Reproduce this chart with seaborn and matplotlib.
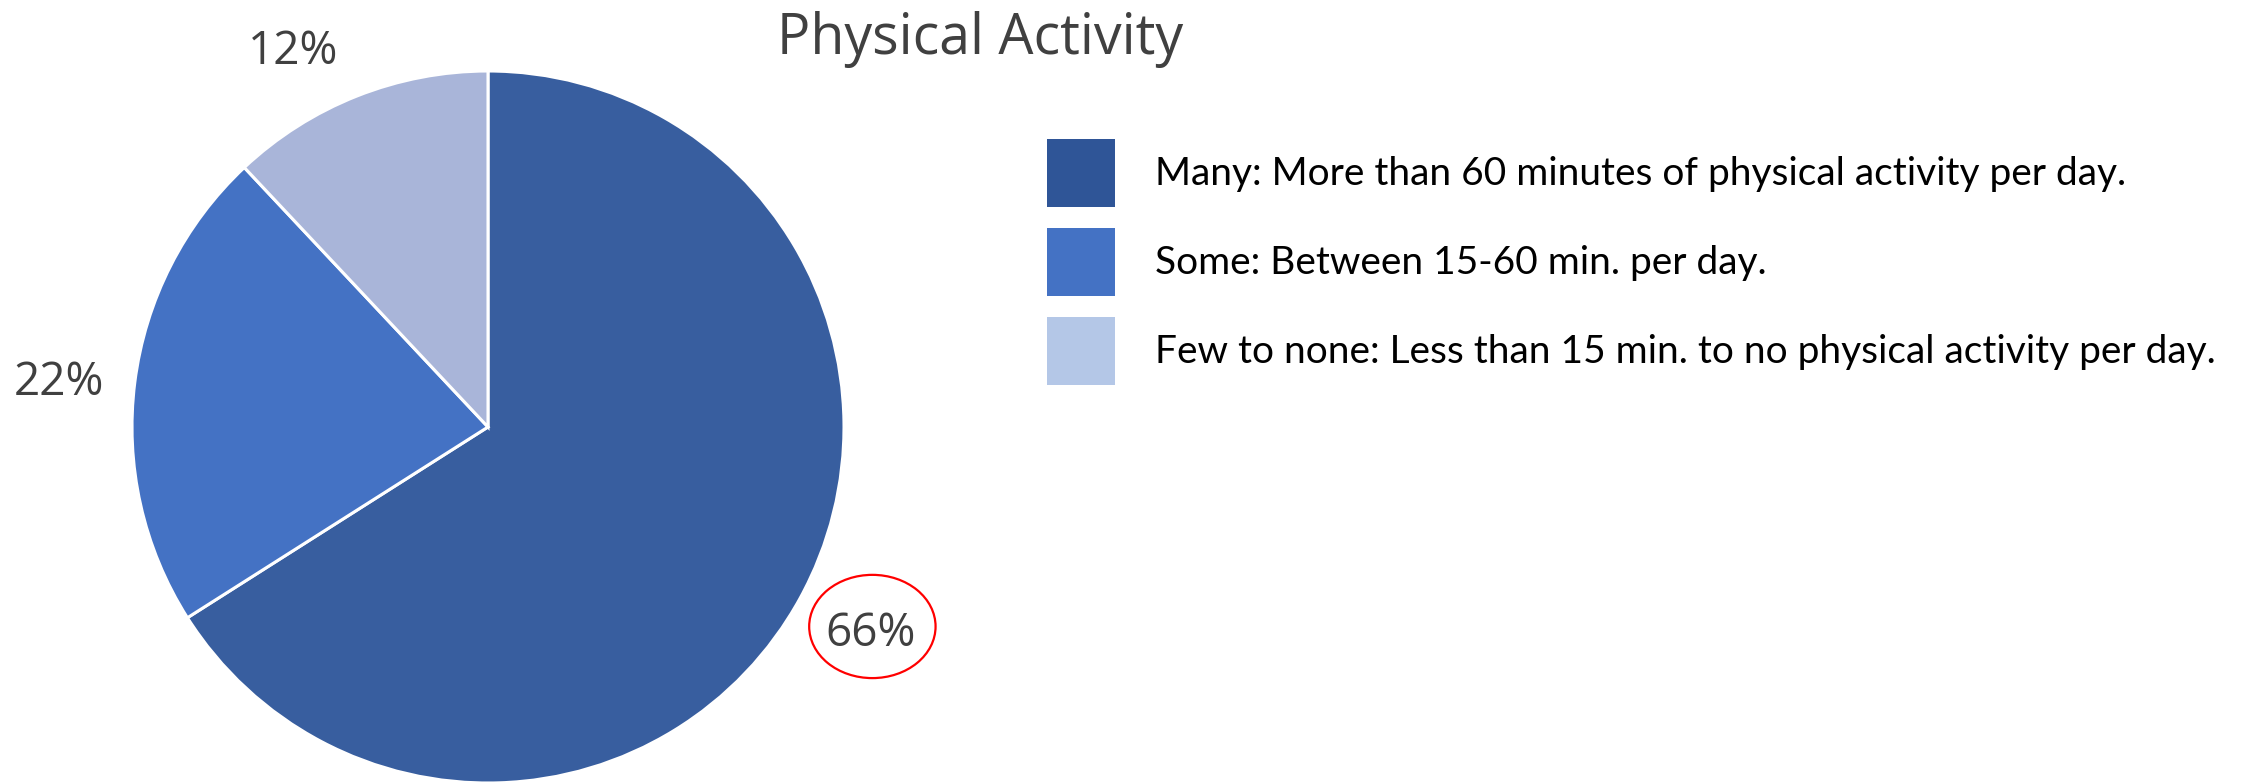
import matplotlib
matplotlib.use("Agg")
import matplotlib.pyplot as plt
from matplotlib.patches import Patch, Ellipse
import seaborn as sns

# data
categories = ["Many: More than 60 minutes of physical activity per day.",
              "Some: Between 15-60 min. per day.",
              "Few to none: Less than 15 min. to no physical activity per day."]
shares = [66, 22, 12]
pct_labels = ["66%", "22%", "12%"]

slice_colors = ["#385E9F", "#4472C4", "#A9B5D9"]
legend_colors = ["#2F5597", "#4472C4", "#B4C7E7"]

sns.set_theme(style="white")
plt.rcParams['font.family'] = ['Open Sans', 'DejaVu Sans']

W, H = 2251, 784
fig = plt.figure(figsize=(W / 100, H / 100), dpi=100)

# pie axes: centre (488, 427) px, radius 356 px
cx, cy, r = 488, 427, 356
ax = fig.add_axes([(cx - r) / W, (H - cy - r) / H, 2 * r / W, 2 * r / H])
wedges, texts = ax.pie(shares, labels=pct_labels, colors=slice_colors,
                       startangle=90, counterclock=False, labeldistance=1.215,
                       wedgeprops=dict(edgecolor="white", linewidth=2.2),
                       textprops=dict(color="#404040", fontsize=33))
for t in texts:
    t.set_ha("center")
    t.set_va("center")
ax.set_xlim(-1, 1)
ax.set_ylim(-1, 1)
ax.set_aspect("equal")
ax.axis("off")

# Excel pulls the outside labels around a little
x12, y12 = texts[2].get_position()
texts[2].set_position((x12 - 0.1, y12 - 0.075))
x22, y22 = texts[1].get_position()
texts[1].set_position((x22, y22 - 0.03))

# red circle drawn around the 66% label
x66, y66 = texts[0].get_position()
texts[0].set_position((x66 + 0.01, y66 + 0.005))
ax.add_patch(Ellipse((x66 + 0.015, y66 + 0.025), 0.355, 0.29, fill=False,
                     edgecolor="red", linewidth=1.6, clip_on=False))

fig.text(980 / W, 1 - 40 / H, "Physical Activity", ha="center", va="center",
         fontsize=40, color="#404040")

handles = [Patch(facecolor=c, edgecolor="none") for c in legend_colors]
fs = 28
fpx = fs * 100 / 72
leg = fig.legend(handles, categories, loc="upper left",
                 bbox_to_anchor=(1047 / W, 1 - 139 / H), frameon=False,
                 borderpad=0, borderaxespad=0,
                 handlelength=68 / fpx, handleheight=((68 / fpx) - 0.245) / 0.65,
                 handletextpad=40 / fpx, labelspacing=21 / fpx,
                 prop=dict(family=['Lato', 'Liberation Sans'], size=fs))
for t in leg.get_texts():
    t.set_color("black")

fig.savefig("out.png", dpi=100)
